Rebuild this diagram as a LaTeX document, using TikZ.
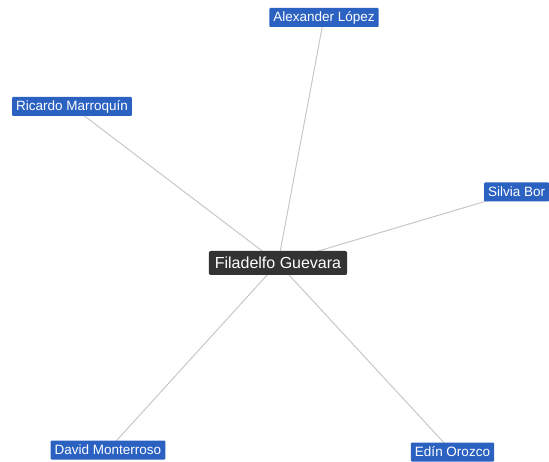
\documentclass[tikz,border=0pt]{standalone}
\usepackage{fontspec}
\setmainfont{Liberation Sans}
\usetikzlibrary{backgrounds}
\definecolor{leafblue}{HTML}{2B62C2}
\definecolor{hubgray}{HTML}{333333}
\definecolor{edgegray}{HTML}{C8C8C8}
\begin{document}
\begin{tikzpicture}[x=1pt,y=-1pt,
  leaf/.style={fill=leafblue,text=white,font=\fontsize{13.5}{15}\selectfont,inner xsep=4pt,inner ysep=2pt,minimum height=19pt,rounded corners=1pt},
  hub/.style={fill=hubgray,text=white,font=\fontsize{16}{18}\selectfont,inner xsep=6pt,inner ysep=2pt,minimum height=24pt,rounded corners=2pt},
  edge/.style={draw=edgegray,line width=1pt}]
\useasboundingbox (0,0) rectangle (549,462);
\clip (0,0) rectangle (549,462);
\node[hub] (h) at (278,263) {Filadelfo Guevara};
\node[leaf] (a) at (324,17.5) {Alexander López};
\node[leaf] (r) at (72,106.5) {Ricardo Marroquín};
\node[leaf,anchor=west] (s) at (484,192) {Silvia Bor};
\node[leaf] (d) at (108,450) {David Monterroso};
\node[leaf] (e) at (452.5,452) {Edín Orozco};
\begin{scope}[on background layer]
\fill[white] (0,0) rectangle (549,462);
\draw[edge] (h.center) -- (a.center);
\draw[edge] (h.center) -- (r.center);
\draw[edge] (h.center) -- (s.center);
\draw[edge] (h.center) -- (d.center);
\draw[edge] (h.center) -- (e.center);
\end{scope}
\end{tikzpicture}
\end{document}
